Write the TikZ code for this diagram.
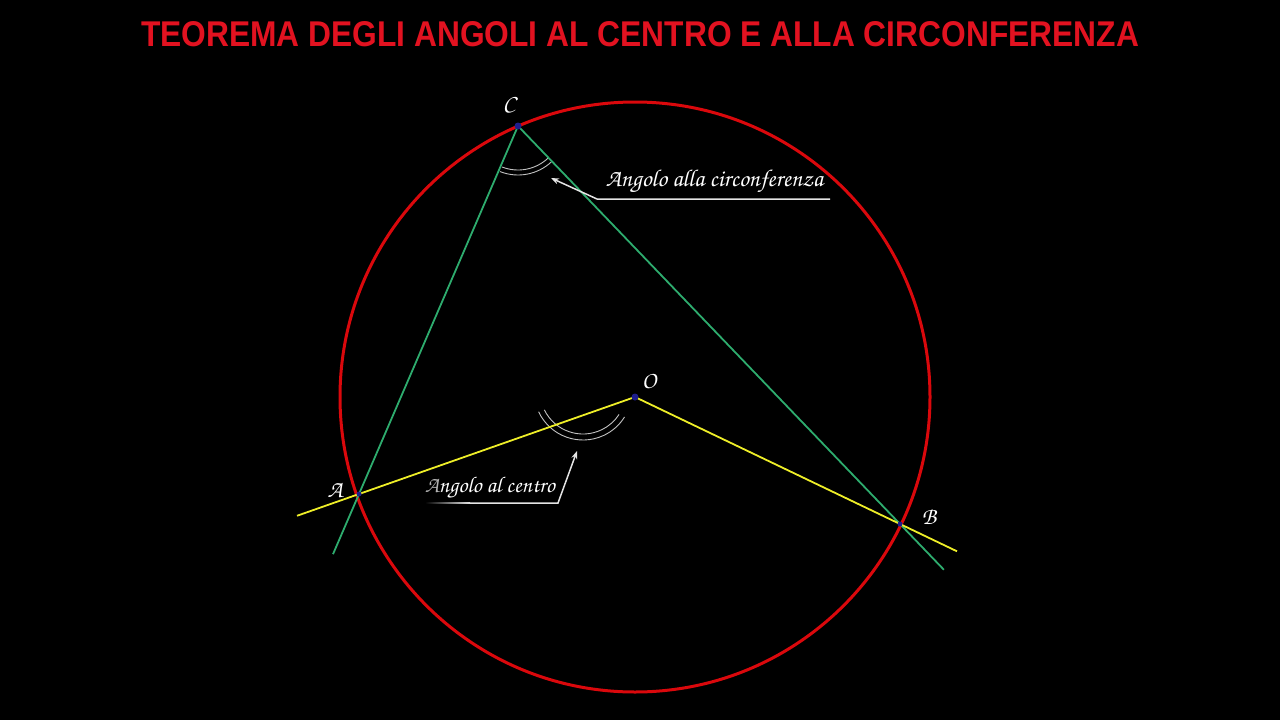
\documentclass[tikz,border=0pt]{standalone}
\usepackage[T1,TU]{fontenc}
\usepackage{fontspec}
\usetikzlibrary{arrows.meta,calc}
\newfontfamily\titlefont{Liberation Sans}
\newcommand\scrfont{\fontencoding{T1}\fontfamily{pzc}\fontseries{mb}\fontshape{it}\selectfont}
\definecolor{titlered}{RGB}{226,18,32}
\definecolor{circred}{RGB}{218,8,12}
\definecolor{lgreen}{RGB}{46,172,110}
\definecolor{lyellow}{RGB}{238,238,40}
\definecolor{dotblue}{RGB}{30,30,140}
\definecolor{pointer}{RGB}{228,228,228}
\tikzset{
  circ/.style={draw=circred, line width=3pt},
  greenline/.style={draw=lgreen, line width=1.8pt},
  yellowline/.style={draw=lyellow, line width=1.8pt},
  anglearc/.style={draw=pointer!85!black, line width=0.9pt},
  pointerline/.style={draw=pointer, line width=1.5pt},
  ptlabel/.style={text=white, font=\scrfont\fontsize{24}{26}\selectfont, inner sep=0pt},
  dotmark/.style={circle, fill=dotblue, inner sep=0pt, minimum size=7pt},
}
\begin{document}
\begin{tikzpicture}[x=1pt,y=1pt]
\fill[black] (0,0) rectangle (1280,-720);
\useasboundingbox (0,0) rectangle (1280,-720);
% title
\node[text=titlered, inner sep=0pt] (title) at (640,-34.5)
  {\resizebox{998pt}{25pt}{\titlefont\bfseries TEOREMA DEGLI ANGOLI AL CENTRO E ALLA CIRCONFERENZA}};
% points
\coordinate (O) at (635,-397);
\coordinate (A) at (359,-494);
\coordinate (B) at (900,-524);
\coordinate (C) at (518,-126);
\coordinate (yA) at ($(O)!1.2246!(A)$);
\coordinate (yB) at ($(O)!1.215!(B)$);
\coordinate (gA) at ($(C)!1.1635!(A)$);
\coordinate (gB) at ($(C)!1.115!(B)$);
% circle
\draw[circ] (O) circle (295pt);
% angle arcs
\draw[anglearc] (C) ++(248.5:44pt) arc (248.5:313:44pt);
\draw[anglearc] (C) ++(248.5:49pt) arc (248.5:313:49pt);
\coordinate (Oarc) at (583,-391);
\draw[anglearc] (Oarc) ++(205:49pt) arc (205:328:49pt);
\draw[anglearc] (Oarc) ++(206:43pt) arc (206:327:43pt);
% lines
\draw[greenline] (gA) -- (C) -- (gB);
\draw[yellowline] (yA) -- (O) -- (yB);
% dots
\node[dotmark] (dC) at (C) {};
\node[dotmark] (dO) at (O) {};
\node[dotmark, minimum size=5pt] (dA) at (A) {};
\node[dotmark, minimum size=5pt] (dB) at (B) {};
% point labels
\node[ptlabel] (lC) at (509,-104) {C};
\node[ptlabel] (lO) at (649,-381) {O};
\node[ptlabel] (lA) at (335,-490) {A};
\node[ptlabel] (lB) at (929,-517) {B};
% pointer: angolo alla circonferenza
\coordinate (p1) at (830,-199);
\coordinate (p2) at (597,-199);
\coordinate (p3) at (551,-178);
\draw[pointerline, -{Stealth[length=8pt,width=6pt]}] (p1) -- (p2) -- (p3);
\node[inner sep=0pt, text=white] (t1) at (714.5,-182)
  {\resizebox{217pt}{!}{\scrfont Angolo alla circonferenza}};
% pointer: angolo al centro
\coordinate (q1) at (470,-503);
\coordinate (q2) at (558,-503);
\coordinate (q3) at (577,-451);
\shade[left color=black, right color=pointer] (425,-502.25) rectangle (470,-503.75);
\draw[pointerline, -{Stealth[length=8pt,width=6pt]}] (q1) -- (q2) -- (q3);
\node[inner sep=0pt, text=white] (t2) at (490,-488)
  {\resizebox{130pt}{!}{\scrfont{\color{gray!60}A}ngolo al centro}};
\end{tikzpicture}
\end{document}
